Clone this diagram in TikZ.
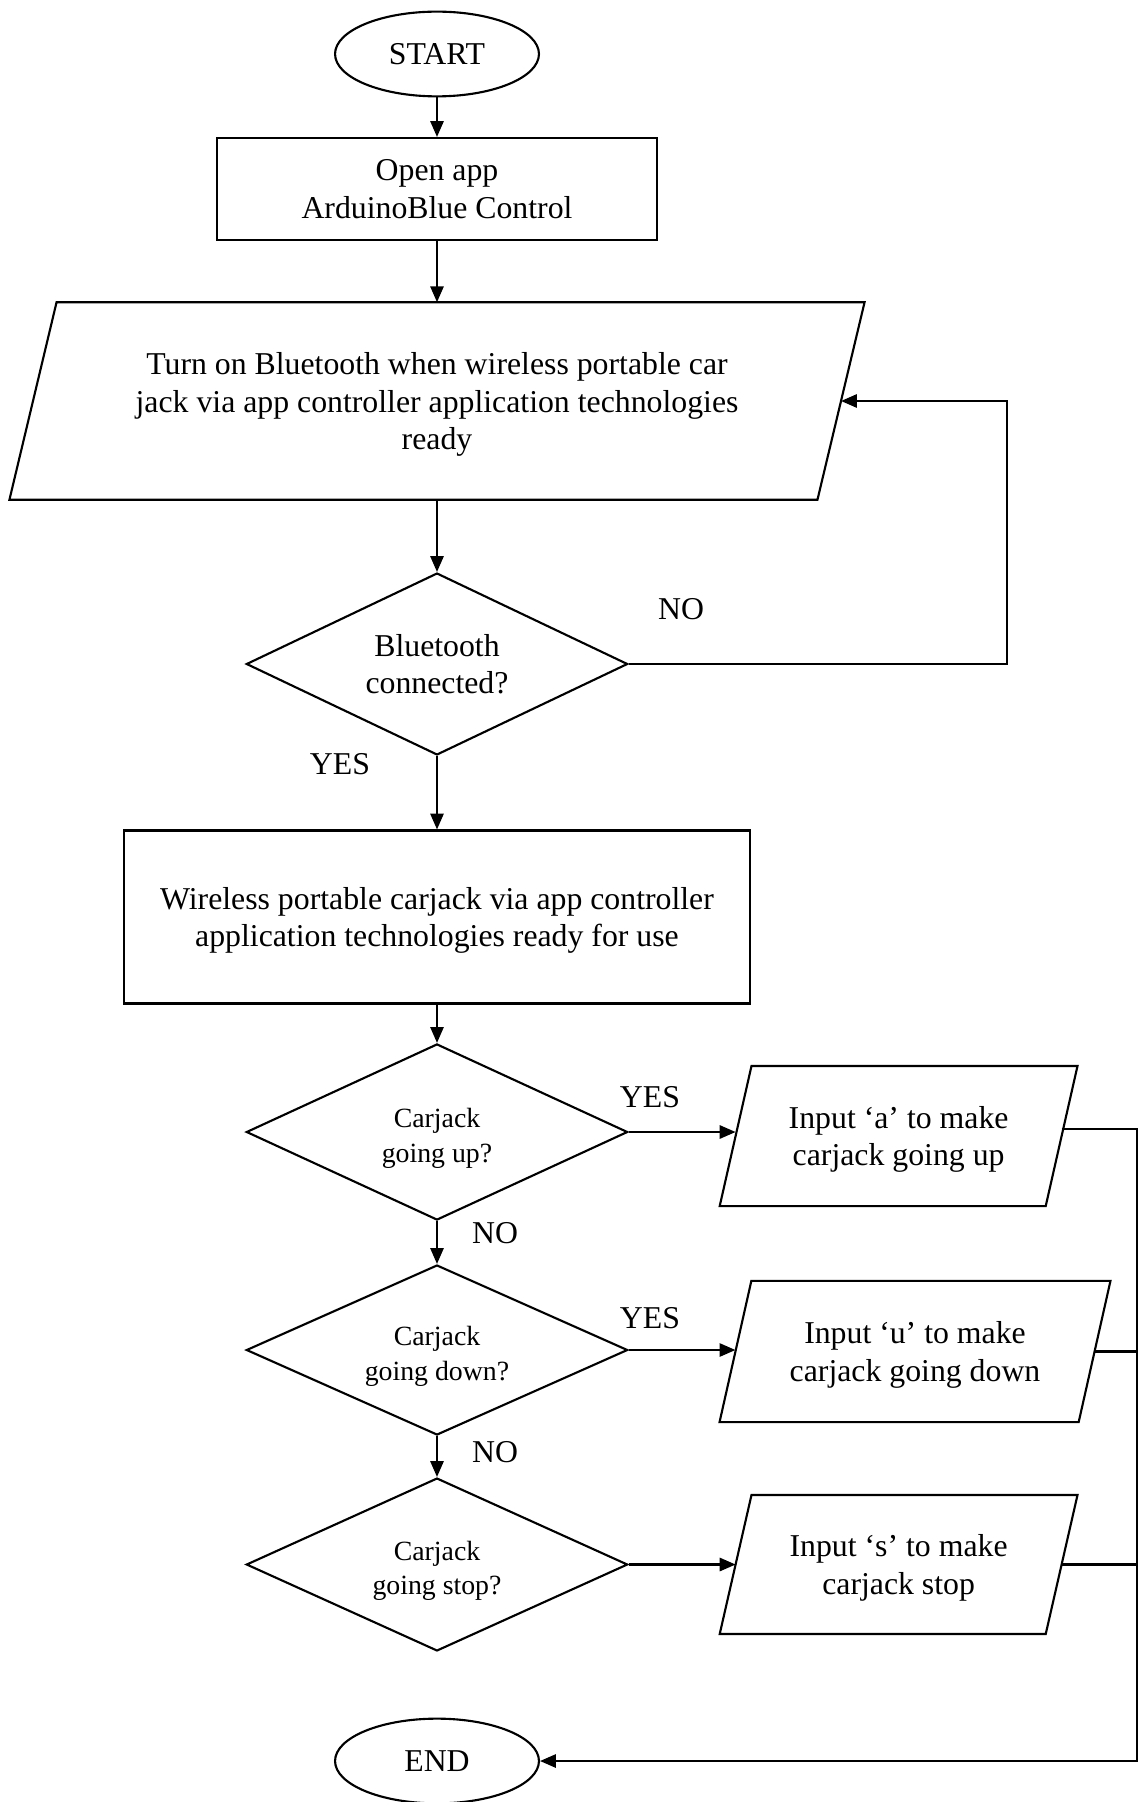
\documentclass[tikz,border=0pt]{standalone}
\usepackage{fontspec}
\setmainfont{Liberation Serif}
\usetikzlibrary{shapes.geometric,arrows.meta}

\begin{document}
\begin{tikzpicture}[
        x=0.3776pt,y=-0.3776pt,line width=0.8pt,
        every node/.style={font=\fontsize{12}{14.2}\selectfont,align=center,inner sep=1pt,text depth=0pt},
        term/.style={draw,ellipse,minimum width=77pt,minimum height=32pt},
        proc/.style={draw,rectangle},
        io/.style={rectangle},
        dec/.style={draw,diamond,aspect=2.2,minimum width=144pt},
        qtext/.style={font=\fontsize{10.5}{13}\selectfont,yshift=-1.2pt},
        arr/.style={-{Triangle[length=6pt,width=5pt]}}]

    \clip (0,0) rectangle (1143,1802);

    \node[term] (start) at (437,54) {START};
    \node[proc,minimum width=166pt,minimum height=38.5pt] (open) at (437,189) {Open app\\ArduinoBlue Control};
    \node[io,minimum width=304.3pt,minimum height=73.8pt] (bt) at (437,401)
        {Turn on Bluetooth when wireless portable car\\jack via app controller application technologies\\ready};
    \node[dec,minimum height=68.7pt] (conn) at (437,664) {Bluetooth\\connected?};
    \node[proc,minimum width=236.4pt,minimum height=65.3pt] (ready) at (437,917)
        {Wireless portable carjack via app controller\\application technologies ready for use};
    \node[dec,minimum height=66.5pt,label={[qtext]center:Carjack\\going up?}] (up) at (437,1132) {};
    \node[dec,minimum height=64.2pt,label={[qtext]center:Carjack\\going down?}] (down) at (437,1350) {};
    \node[dec,minimum height=65.3pt,label={[qtext]center:Carjack\\going stop?}] (stop) at (437,1564.5) {};
    \node[io,minimum width=122.3pt,minimum height=52.1pt] (ina) at (898.6,1136) {Input ‘a’ to make\\carjack going up};
    \node[io,minimum width=134.8pt,minimum height=52.5pt] (inu) at (915,1351.5) {Input ‘u’ to make\\carjack going down};
    \node[io,minimum width=122.3pt,minimum height=51.7pt] (ins) at (898.6,1564.5) {Input ‘s’ to make\\carjack stop};
    \node[term] (fin) at (437,1761) {END};

    \foreach \n/\s in {bt/8.9pt,ina/6pt,inu/6pt,ins/6pt}
        \draw ([xshift=\s]\n.north west) -- ([xshift=\s]\n.north east)
            -- ([xshift=-\s]\n.south east) -- ([xshift=-\s]\n.south west) -- cycle;

    \node (no1) at (681,609) {NO};
    \node (yes1) at (340,764) {YES};
    \node (yes2) at (650,1097) {YES};
    \node (no2) at (495,1232.5) {NO};
    \node (yes3) at (650,1317.5) {YES};
    \node (no3) at (495,1452) {NO};

    \draw[arr] (start) -- (open);
    \draw[arr] (open) -- (bt);
    \draw[arr] (bt) -- (conn);
    \draw[arr] (conn.east) -- ++(378,0) |- (bt.east);
    \draw[arr] (conn) -- (ready);
    \draw[arr] (ready) -- (up);
    \draw[arr] (up) -- (down);
    \draw[arr] (down) -- (stop);
    \draw[arr] (up.east) -- (up.east -| ina.west);
    \draw[arr] (down.east) -- (down.east -| inu.west);
    \draw[arr] (stop.east) -- (stop.east -| ins.west);

    \coordinate (bus) at (1137,1761);
    \draw[arr] ([yshift=2.6pt]ina.east) -| (bus) -- (fin.east);
    \draw (inu.east) -- (inu.east -| bus);
    \draw (ins.east) -- (ins.east -| bus);
\end{tikzpicture}
\end{document}
